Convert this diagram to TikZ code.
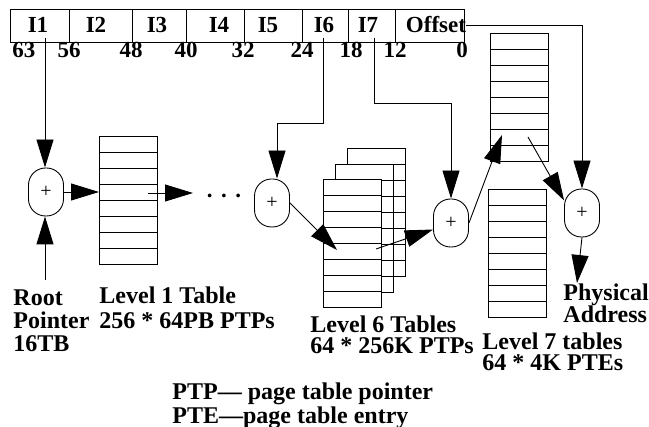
\documentclass[tikz,border=0pt]{standalone}
\usepackage{fontspec}
\setmainfont{Liberation Serif}
\usetikzlibrary{arrows.meta}
\tikzset{
  tab/.style={draw, fill=white, minimum width=58pt, minimum height=128pt, inner sep=0pt, anchor=north west,
    path picture={\foreach \k in {1,...,7}
      \draw ([yshift=-\k*16pt]path picture bounding box.north west) -- ++(58pt,0pt);}},
  adder/.style={draw, rounded corners=17pt, minimum width=35pt, minimum height=48pt, inner sep=0pt,
    font=\fontsize{20}{20}\selectfont},
  lbl/.style={inner sep=0pt, anchor=north west, align=left, font=\fontsize{24}{#1}\selectfont\bfseries},
  lbl/.default=23,
  bits/.style={inner sep=0pt, anchor=base, font=\fontsize{23}{23}\selectfont\bfseries}
}
\begin{document}
\begin{tikzpicture}[x=1pt, y=-1pt, line width=0.9pt, >={Triangle[length=28pt,width=17pt]}]
\useasboundingbox (0,0) rectangle (649,427);
% virtual address fields
\draw (10,9) rectangle (464,42);
\foreach \x in {69,132,186,244,302,348,395} \draw (\x,9) -- (\x,42);
\foreach \x/\nm/\lab in {38/1/I1, 96/2/I2, 157/3/I3, 219/4/I4, 268/5/I5, 324/6/I6, 368/7/I7, 436/off/Offset}
  \node[bits] (f\nm) at (\x,33) {\lab};
\foreach \x/\bit in {24/63, 69/56, 131/48, 186/40, 243/32, 302/24, 351/18, 395/12, 462/0}
  \node[bits] (b\bit) at (\x,58) {\bit};

% adders
\node[adder] (a1) at (46,192) {+};
\node[adder] (a2) at (272,203) {+};
\node[adder] (a3) at (451,223) {+};
\node[adder] (a4) at (582,213) {+};

% tables
\node[tab] (t1) at (99,136) {};
\node[tab] (t6c) at (347,148) {};
\node[tab] (t6b) at (335,164) {};
\node[tab] (t6a) at (323,179) {};
\node[tab] (t7a) at (490,33) {};
\node[tab] (t7b) at (488,189) {};
\node[bits] (dots) at (224,198) {.\hspace{8.5pt}.\hspace{8.5pt}.};

\coordinate (s1) at (45,38);
\coordinate (s6) at (323,38);
\coordinate (k6) at (323,123);
\coordinate (s7) at (374,38);
\coordinate (k7) at (374,103);
\coordinate (root) at (45,280);
\coordinate (e1) at (148,193);
\coordinate (h1) at (193,193);
\coordinate (h2) at (337,250);
\coordinate (e6) at (376,249);
\coordinate (h3) at (502,135);
\coordinate (e7) at (528,137);
\coordinate (pa) at (577,283);

% pointers
\draw[->] (s1) -- (s1 |- a1.north);
\draw[->] (root) -- (root |- a1.south);
\draw[->] (a1.east) -- (a1.east -| t1.west);
\draw[->] (e1) -- (h1);
\draw[->] (s6) -- (k6) -| ([xshift=5pt]a2.north);
\draw[->] (a2.east) -- (h2);
\draw[->] (e6) -- (a3.200);
\draw[->] (s7) -- (k7) -| (a3.north);
\draw[->] (a3.east) -- (h3);
\draw[->] (foff.east) -| (a4.north);
\draw[->] (e7) -- (a4.145);
\draw[->] (a4.south) -- (pa);

% labels
\node[lbl=23] (rootlbl) at (13,289) {Root\\Pointer\\16TB};
\node[lbl=25] (l1lbl) at (99,286) {Level 1 Table\\256 * 64PB PTPs};
\node[lbl=21] (l6lbl) at (310,315) {Level 6 Tables\\64 * 256K PTPs};
\node[lbl=21] (l7lbl) at (482,332) {Level 7 tables\\64 * 4K PTEs};
\node[lbl=21] (palbl) at (563,283) {Physical\\Address};
\node[lbl=24] (legend) at (172,382) {PTP— page table pointer\\PTE—page table entry};
\end{tikzpicture}
\end{document}
